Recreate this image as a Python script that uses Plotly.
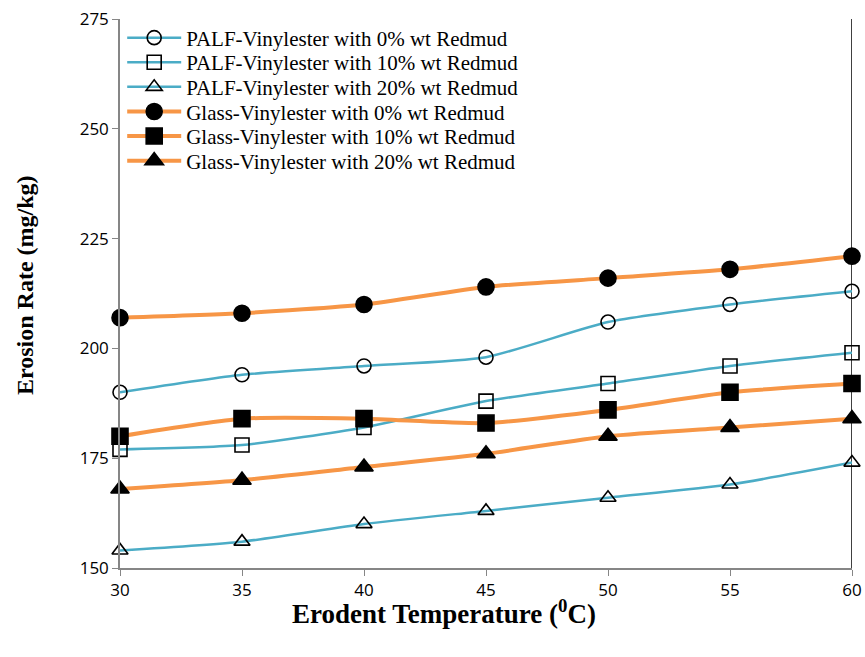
import plotly.graph_objects as go

temperature = [30, 35, 40, 45, 50, 55, 60]
palf_0 = [190, 194, 196, 198, 206, 210, 213]
palf_10 = [177, 178, 182, 188, 192, 196, 199]
palf_20 = [154, 156, 160, 163, 166, 169, 174]
glass_0 = [207, 208, 210, 214, 216, 218, 221]
glass_10 = [180, 184, 184, 183, 186, 190, 192]
glass_20 = [168, 170, 173, 176, 180, 182, 184]

series_names = [
    "PALF-Vinylester with 0% wt Redmud",
    "PALF-Vinylester with 10% wt Redmud",
    "PALF-Vinylester with 20% wt Redmud",
    "Glass-Vinylester with 0% wt Redmud",
    "Glass-Vinylester with 10% wt Redmud",
    "Glass-Vinylester with 20% wt Redmud",
]
series_values = [palf_0, palf_10, palf_20, glass_0, glass_10, glass_20]
symbols = ["circle-open", "square-open", "triangle-up-open", "circle", "square", "triangle-up"]
blue = "#4bacc6"
orange = "#f79646"
line_colors = [blue, blue, blue, orange, orange, orange]
line_widths = [2.5, 2.5, 2.5, 4, 4, 4]

W, H = 865, 657
ML, MR, MT, MB = 120, 13, 19, 89
plot_h = H - MT - MB

fig = go.Figure()
legend_layout = {}
for i, (name, vals, sym, col, lw) in enumerate(zip(series_names, series_values, symbols, line_colors, line_widths)):
    filled = not sym.endswith("open")
    lg = "legend" if i == 0 else f"legend{i + 1}"
    fig.add_trace(go.Scatter(
        x=temperature, y=vals, name=name, mode="lines+markers", legend=lg,
        line=dict(color=col, width=lw, shape="spline", smoothing=0.6),
        marker=dict(symbol=sym, size=16 if filled else 14, color="black",
                    line=dict(color="black", width=1.6)),
        cliponaxis=False,
    ))
    row_y = 38 + 24.6 * i
    legend_layout[lg] = dict(
        x=0.003, y=(H - MB - row_y) / plot_h, xanchor="left", yanchor="middle",
        font=dict(family="Liberation Serif", size=21, color="black"),
        bgcolor="rgba(0,0,0,0)", borderwidth=0, itemwidth=54,
    )

fig.add_shape(type="line", xref="x", yref="paper", x0=60, x1=60, y0=0, y1=1,
              line=dict(color="black", width=1.5), layer="below")

fig.add_annotation(text="<b>Erodent Temperature (<sup>0</sup>C)</b>", xref="paper", yref="paper",
                   x=(444 - ML) / (W - ML - MR), y=(H - MB - 612) / plot_h,
                   xanchor="center", yanchor="middle", showarrow=False,
                   font=dict(family="Liberation Serif", size=27, color="black"))
fig.add_annotation(text="<b>Erosion Rate (mg/kg)</b>", xref="paper", yref="paper",
                   x=(25 - ML) / (W - ML - MR), y=(H - MB - 285) / plot_h,
                   xanchor="center", yanchor="middle", showarrow=False,
                   textangle=-90,
                   font=dict(family="Liberation Serif", size=24, color="black"))

fig.update_layout(
    width=W, height=H,
    margin=dict(l=ML, r=MR, t=MT, b=MB, autoexpand=False),
    paper_bgcolor="white", plot_bgcolor="white",
    showlegend=True,
    xaxis=dict(range=[30, 60], tickvals=temperature, showgrid=False, zeroline=False,
               automargin=False, ticklabeloverflow="allow",
               showline=True, linecolor="#868686", linewidth=1.5,
               ticks="outside", ticklen=6, tickcolor="#868686",
               tickfont=dict(family="Open Sans", size=17, color="black")),
    yaxis=dict(range=[150, 275], tickvals=[150, 175, 200, 225, 250, 275], showgrid=False,
               automargin=False, ticklabeloverflow="allow",
               zeroline=False, showline=True, linecolor="#868686", linewidth=1.5,
               ticks="outside", ticklen=6, tickcolor="#868686",
               tickfont=dict(family="Open Sans", size=17, color="black")),
    **legend_layout,
)

fig.write_html("out.html", config={"displayModeBar": False},
               post_script="document.body.style.margin='0';")
